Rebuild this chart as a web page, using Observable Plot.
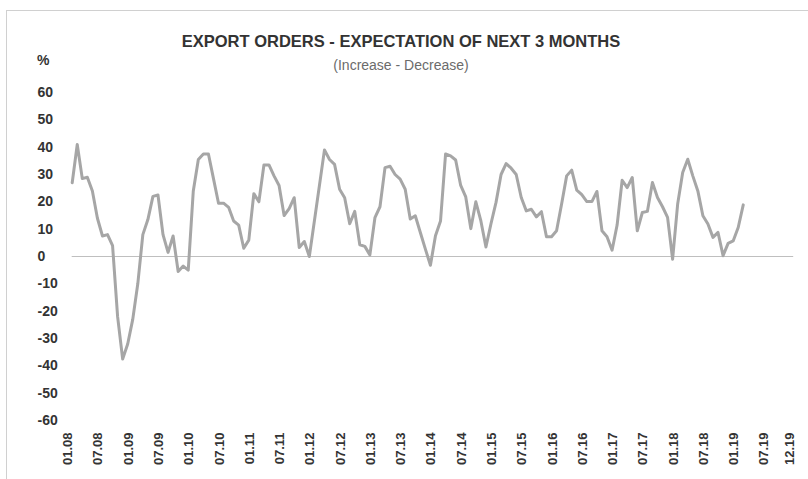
<!DOCTYPE html>
<html>
<head>
<meta charset="utf-8">
<script src="https://cdn.jsdelivr.net/npm/d3@7"></script>
<script src="https://cdn.jsdelivr.net/npm/@observablehq/plot@0.6"></script>
<style>
  html, body { margin: 0; padding: 0; background: #fff; }
  body { width: 808px; height: 479px; overflow: hidden; position: relative; font-family: "Liberation Sans", Arial, sans-serif; }
  #frame { position: absolute; left: 6px; top: 10px; width: 820px; height: 480px; border-top: 1px solid #d0d0d0; border-left: 1px solid #d0d0d0; }
  #title { position: absolute; left: 0; width: 802px; top: 32px; text-align: center; font-weight: bold; font-size: 16.5px; color: #333; }
  #subtitle { position: absolute; left: 0; width: 802px; top: 57px; text-align: center; font-size: 14px; color: #6b6b6b; }
  #unit { position: absolute; left: 37px; top: 52px; font-weight: bold; font-size: 14px; color: #333; }
  #chart { position: absolute; left: 0; top: 0; }
</style>
</head>
<body>
<div id="frame"></div>
<div id="chart"></div>
<div id="title">EXPORT ORDERS - EXPECTATION OF NEXT 3 MONTHS</div>
<div id="subtitle">(Increase - Decrease)</div>
<div id="unit">%</div>
<script>
// Monthly values, Jan 2008 .. Feb 2019
const years = [2008, 2009, 2010, 2011, 2012, 2013, 2014, 2015, 2016, 2017, 2018, 2019];
const v2008 = [27, 41, 28.5, 29, 24, 14, 7.5, 8, 4, -22, -37.5, -32];
const v2009 = [-23, -10, 8, 13.5, 22, 22.5, 8, 1.5, 7.5, -5.5, -3.5, -5];
const v2010 = [24, 35.5, 37.5, 37.5, 28.5, 19.5, 19.5, 18, 13, 11.5, 3, 6];
const v2011 = [23, 20, 33.5, 33.5, 29.5, 26, 15, 17.5, 21.5, 3.3, 5.5, 0];
const v2012 = [13, 26, 39, 35.5, 33.7, 24.6, 21.5, 12, 16.5, 4.3, 3.7, 0.6];
const v2013 = [14.2, 18.2, 32.5, 33, 30, 28.3, 24.6, 13.7, 14.9, 8.8, 2.7, -3.2];
const v2014 = [7.6, 13, 37.5, 36.8, 35.3, 26, 21.8, 10.2, 20, 13, 3.5, 12];
const v2015 = [19.8, 30, 34, 32.3, 30, 21.6, 16.7, 17.3, 14.5, 16.4, 7.2, 7.2];
const v2016 = [9.4, 19.2, 29.5, 31.6, 24.3, 22.6, 20.1, 20.1, 23.8, 9.4, 7.2, 2.3];
const v2017 = [11.5, 27.9, 25.2, 28.9, 9.4, 16.1, 16.5, 27.1, 21.6, 18.2, 14.3, -1];
const v2018 = [19.2, 30.7, 35.6, 29.5, 24, 14.9, 11.9, 7, 8.8, 0.3, 4.8, 5.7];
const v2019 = [10.6, 18.9];

// Axis tick labels (month index from Jan 2008 -> label)
const xTickIdx = [0, 6, 12, 18, 24, 30, 36, 42, 48, 54, 60, 66, 72, 78, 84, 90, 96, 102, 108, 114, 120, 126, 132, 138, 143];
const xTickLabels = ["01.08","07.08","01.09","07.09","01.10","07.10","01.11","07.11","01.12","07.12","01.13","07.13","01.14","07.14","01.15","07.15","01.16","07.16","01.17","07.17","01.18","07.18","01.19","07.19","12.19"];
const yTicks = [60, 50, 40, 30, 20, 10, 0, -10, -20, -30, -40, -50, -60];

const series = [v2008, v2009, v2010, v2011, v2012, v2013, v2014, v2015, v2016, v2017, v2018, v2019];
const data = series.flatMap((arr, yi) => arr.map((v, m) => ({i: yi * 12 + m, v})));
const xTicks = xTickIdx.map((i, k) => ({i, label: xTickLabels[k]}));

const chart = Plot.plot({
  width: 808,
  height: 479,
  marginTop: 92,
  marginBottom: 59,
  marginLeft: 71.7,
  marginRight: 14.8,
  style: {fontFamily: "Liberation Sans, Arial, sans-serif", background: "transparent"},
  x: {domain: [0, 143], axis: null},
  y: {domain: [-60, 60], axis: null},
  marks: [
    Plot.ruleY([0], {stroke: "#bfbfbf", strokeWidth: 1}),
    Plot.line(data, {x: "i", y: "v", stroke: "#a6a6a6", strokeWidth: 3, strokeLinejoin: "round"}),
    Plot.text(yTicks, {y: d => d, text: d => String(d), frameAnchor: "left", textAnchor: "start", dx: -34.7, fontSize: 14, fontWeight: "bold", fill: "#333"}),
    Plot.text(xTicks, {x: "i", text: "label", frameAnchor: "bottom", rotate: -90, textAnchor: "end", dy: 12, fontSize: 13, fontWeight: "bold", fill: "#333"})
  ]
});
document.getElementById("chart").appendChild(chart);
</script>
</body>
</html>
